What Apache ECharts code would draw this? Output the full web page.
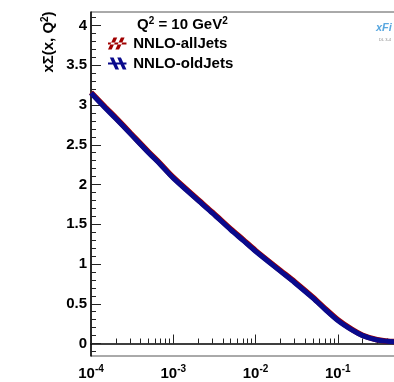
<!DOCTYPE html>
<html>
<head>
<meta charset="utf-8">
<script src="https://cdn.jsdelivr.net/npm/echarts@6/dist/echarts.min.js"></script>
<style>html,body{margin:0;padding:0;background:#fff}#c{width:394px;height:382px}</style>
</head>
<body>
<div id="c"></div>
<script>
var xValues = [1e-4, 1.5e-4, 2e-4, 3e-4, 5e-4, 7e-4, 1e-3, 2e-3, 3e-3, 5e-3, 7e-3, 1e-2, 2e-2, 3e-2, 5e-2, 7e-2, 0.1, 0.15, 0.2, 0.3, 0.4, 0.5, 0.7, 1.0];
var oldJets = [3.15, 2.96, 2.83, 2.64, 2.40, 2.25, 2.08, 1.80, 1.64, 1.43, 1.30, 1.16, 0.91, 0.765, 0.57, 0.43, 0.29, 0.168, 0.10, 0.044, 0.028, 0.022, 0.015, 0.01];
var allJets = [3.16, 2.97, 2.84, 2.65, 2.41, 2.26, 2.09, 1.81, 1.65, 1.44, 1.31, 1.17, 0.92, 0.775, 0.58, 0.44, 0.30, 0.174, 0.104, 0.047, 0.030, 0.023, 0.015, 0.01];
var yMajorTicks = [0, 0.5, 1, 1.5, 2, 2.5, 3, 3.5, 4];
var yMinorTicks = [-0.1, 0.1, 0.2, 0.3, 0.4, 0.6, 0.7, 0.8, 0.9, 1.1, 1.2, 1.3, 1.4, 1.6, 1.7, 1.8, 1.9, 2.1, 2.2, 2.3, 2.4, 2.6, 2.7, 2.8, 2.9, 3.1, 3.2, 3.3, 3.4, 3.6, 3.7, 3.8, 3.9, 4.1];
var xMinorTicks = [2e-4, 3e-4, 4e-4, 5e-4, 6e-4, 7e-4, 8e-4, 9e-4, 2e-3, 3e-3, 4e-3, 5e-3, 6e-3, 7e-3, 8e-3, 9e-3, 0.02, 0.03, 0.04, 0.05, 0.06, 0.07, 0.08, 0.09, 0.2, 0.3, 0.4, 0.5, 0.6, 0.7, 0.8, 0.9];
var legendNames = ['NNLO-allJets', 'NNLO-oldJets'];

function pairs(ys) { return xValues.map(function (x, i) { return [x, ys[i]]; }); }

var chart = echarts.init(document.getElementById('c'), null, { renderer: 'canvas' });
var FONT = '"Liberation Sans", Arial, sans-serif';
var yMin = -0.157, yMax = 4.17;
var redIcon = 'path://M0,13 L4,13 L10,0 L6,0 Z M8,13 L12,13 L18,0 L14,0 Z M0,5.5 L20,5.5 L20,7.5 L0,7.5 Z';
var blueIcon = 'path://M2,0 L6,0 L12,13 L8,13 Z M10,0 L14,0 L20,13 L16,13 Z M0,5.5 L20,5.5 L20,7.5 L0,7.5 Z';

chart.setOption({
  animation: false,
  backgroundColor: '#fff',
  grid: { left: 91, top: 12, bottom: 26, right: -26, outerBoundsMode: 'none', containLabel: false, show: true, borderColor: '#555', borderWidth: 1, backgroundColor: 'transparent' },
  title: {
    text: '{t|Q}{s|2}{t| = 10 GeV}{s|2}',
    left: 132, top: 11,
    textStyle: { rich: {
      t: { fontFamily: FONT, fontWeight: 'bold', fontSize: 15, color: '#000', verticalAlign: 'bottom' },
      s: { fontFamily: FONT, fontWeight: 'bold', fontSize: 10, color: '#000', verticalAlign: 'top', padding: [0, 0, 6, 0] }
    } }
  },
  legend: {
    data: [{ name: legendNames[0], icon: redIcon }, { name: legendNames[1], icon: blueIcon }],
    orient: 'vertical',
    left: 103, top: 31,
    itemWidth: 20, itemHeight: 12, itemGap: 5,
    selectedMode: false,
    textStyle: { fontFamily: FONT, fontWeight: 'bold', fontSize: 15, color: '#000', padding: [0, 0, 0, 1] }
  },
  xAxis: [{
    type: 'log', logBase: 10, min: 1e-4, max: 1,
    axisLine: { show: true, lineStyle: { color: '#000', width: 1.5 } },
    axisTick: { show: true, inside: true, length: 9, lineStyle: { color: '#222', width: 1 } },
    splitLine: { show: false },
    axisLabel: {
      margin: 8,
      formatter: function (v) { var e = Math.round(Math.log10(v)); return '{b|10}{s|' + e + '}'; },
      rich: {
        b: { fontFamily: FONT, fontWeight: 'bold', fontSize: 15, color: '#000', verticalAlign: 'bottom' },
        s: { fontFamily: FONT, fontWeight: 'bold', fontSize: 10, color: '#000', verticalAlign: 'top', padding: [0, 0, 7, 0] }
      }
    }
  }, {
    type: 'log', logBase: 10, min: 1e-4, max: 1, position: 'bottom',
    axisLine: { show: false },
    axisTick: { show: true, inside: true, length: 5, customValues: xMinorTicks, lineStyle: { color: '#222', width: 1 } },
    axisLabel: { show: false },
    splitLine: { show: false }
  }],
  yAxis: [{
    type: 'value', min: yMin, max: yMax,
    axisLine: { show: true, lineStyle: { color: '#000', width: 1.5 } },
    axisTick: { show: true, inside: true, length: 10, customValues: yMajorTicks, lineStyle: { color: '#222', width: 1 } },
    splitLine: { show: false },
    axisLabel: { customValues: yMajorTicks, margin: 4, fontFamily: FONT, fontWeight: 'bold', fontSize: 15, color: '#000' }
  }, {
    type: 'value', min: yMin, max: yMax, position: 'left',
    axisLine: { show: false },
    axisTick: { show: true, inside: true, length: 5, customValues: yMinorTicks, lineStyle: { color: '#222', width: 1 } },
    axisLabel: { show: false },
    splitLine: { show: false }
  }],
  series: [{
    name: legendNames[0], type: 'line', xAxisIndex: 0, yAxisIndex: 0,
    data: pairs(allJets), showSymbol: false, smooth: 0.3,
    itemStyle: { color: '#a00000' },
    lineStyle: { color: '#a00000', width: 5.5 }
  }, {
    name: legendNames[1], type: 'line', xAxisIndex: 0, yAxisIndex: 0,
    data: pairs(oldJets), showSymbol: false, smooth: 0.3,
    itemStyle: { color: '#0a0a8c' },
    lineStyle: { color: '#0a0a8c', width: 5 }
  }],
  graphic: [{
    type: 'text', x: 48, y: 42, rotation: Math.PI / 2, originX: 0, originY: 0,
    style: {
      text: '{t|xΣ(x, Q}{s|2}{t|)}',
      align: 'center', verticalAlign: 'middle',
      rich: {
        t: { fontFamily: FONT, fontWeight: 'bold', fontSize: 15, fill: '#000', verticalAlign: 'bottom' },
        s: { fontFamily: FONT, fontWeight: 'bold', fontSize: 10, fill: '#000', verticalAlign: 'top', padding: [0, 0, 6, 0] }
      }
    }
  }, {
    type: 'text', x: 376, y: 22,
    style: { text: 'xFi', fontFamily: FONT, fontStyle: 'italic', fontWeight: 'bold', fontSize: 11, fill: '#5aa8e0' }
  }, {
    type: 'text', x: 379, y: 38,
    style: { text: 'DL 3-4', fontFamily: FONT, fontSize: 4, fill: '#888' }
  }]
});
</script>
</body>
</html>
